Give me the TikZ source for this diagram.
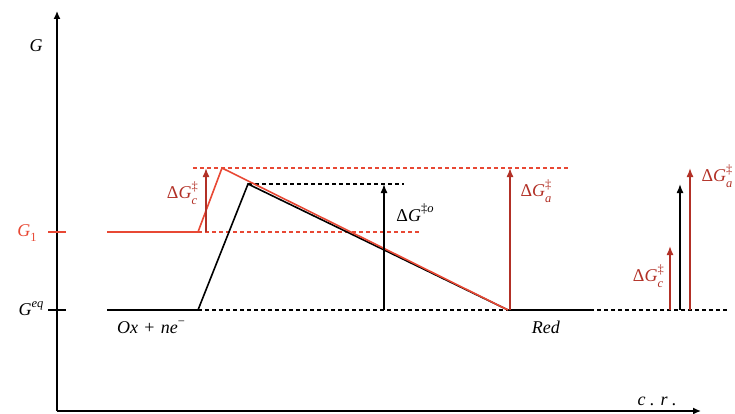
\documentclass[tikz,border=0pt]{standalone}
\usepackage{fontspec}
\setmainfont{Liberation Serif}
\usetikzlibrary{arrows.meta}
\definecolor{cred}{RGB}{232,72,52}
\definecolor{dred}{RGB}{178,48,38}
\newcommand\scr{\fontsize{12.5}{12.5}\selectfont}
\newcommand\dGlab[2]{Δ\textit{G}\makebox[0pt][l]{\raisebox{0.48em}{\scr #2}}\raisebox{-0.3em}{\scr\textit{#1}}}
\begin{document}
\begin{tikzpicture}[x=1pt,y=-1pt,
  font=\fontsize{18}{21}\selectfont,
  axis/.style={line width=1.4pt,-{Latex[length=8pt,width=7pt]}},
  curve/.style={line width=1.6pt},
  dline/.style={line width=1.3pt,dash pattern=on 4pt off 3pt},
  arr/.style={line width=1.5pt,-{Latex[length=9pt,width=7pt]}},
  lbl/.style={inner sep=1pt}]
\useasboundingbox (0,0) rectangle (735,414);
% axes
\coordinate (o) at (57,411);
\coordinate (ytop) at (57,11);
\coordinate (xend) at (701,411);
\draw[axis] (o) -- (ytop);
\draw[axis] (o) -- (xend);
\node[lbl] (G) at (36,46) {\textit{G}};
\node[lbl] (cr) at (657,401) {\textit{c . r .}};
% ticks
\coordinate (t1a) at (48,232); \coordinate (t1b) at (66,232);
\coordinate (t2a) at (48,310); \coordinate (t2b) at (66,310);
\draw[cred,line width=1.5pt] (t1a) -- (t1b);
\draw[line width=1.5pt] (t2a) -- (t2b);
\node[lbl,text=cred] (G1) at (27,233) {\textit{G}\raisebox{-0.3em}{\scr 1}};
\node[lbl] (Geq) at (31,309) {\textit{G}\raisebox{0.45em}{\scr\textit{eq}}};
% key points
\coordinate (b0) at (107,310);
\coordinate (b1) at (198,310);
\coordinate (bts) at (248,184);
\coordinate (bend) at (508,310);
\coordinate (b3) at (592,310);
\coordinate (r0) at (107,232);
\coordinate (r1) at (198,232);
\coordinate (rts) at (222,168);
% dashed lines
\coordinate (d1a) at (198,310); \coordinate (d1b) at (729,310);
\coordinate (d2a) at (193,168); \coordinate (d2b) at (568,168);
\coordinate (d3a) at (198,232); \coordinate (d3b) at (421,232);
\coordinate (d4a) at (248,184); \coordinate (d4b) at (404,184);
\draw[dline] (d1a) -- (d1b);
\draw[dline,cred] (d2a) -- (d2b);
\draw[dline,cred] (d3a) -- (d3b);
\draw[dline] (d4a) -- (d4b);
% curves
\draw[curve] (b0) -- (b1) -- (bts) -- (bend) -- (b3);
\draw[curve,cred] (r0) -- (r1) -- (rts) -- (bend);
% arrows in the diagram
\coordinate (ac0) at (206,232); \coordinate (ac1) at (206,168);
\draw[arr,dred] (ac0) -- (ac1);
\node[lbl,text=dred] (lc) at (182,193) {\dGlab{c}{‡}};
\coordinate (ao0) at (384,310); \coordinate (ao1) at (384,184);
\draw[arr] (ao0) -- (ao1);
\node[lbl] (lo) at (415,213) {Δ\textit{G}\raisebox{0.48em}{\scr ‡\textit{o}}};
\coordinate (aa0) at (510,310); \coordinate (aa1) at (510,168);
\draw[arr,dred] (aa0) -- (aa1);
\node[lbl,text=dred] (la) at (536,191) {\dGlab{a}{‡}};
% right side arrows
\coordinate (rc0) at (670,310); \coordinate (rc1) at (670,246);
\coordinate (ro0) at (680,310); \coordinate (ro1) at (680,184);
\coordinate (ra0) at (690,310); \coordinate (ra1) at (690,168);
\draw[arr,dred] (rc0) -- (rc1);
\draw[arr] (ro0) -- (ro1);
\draw[arr,dred] (ra0) -- (ra1);
\node[lbl,text=dred] (lc2) at (648,276) {\dGlab{c}{‡}};
\node[lbl,text=dred] (la2) at (717,176) {\dGlab{a}{‡}};
% species labels
\node[lbl] (ox) at (151,327) {\textit{Ox}\hspace{0.35em}+\hspace{0.35em}\textit{ne}\raisebox{0.45em}{\scr −}};
\node[lbl] (red) at (546,327) {\textit{Red}};
\end{tikzpicture}
\end{document}
